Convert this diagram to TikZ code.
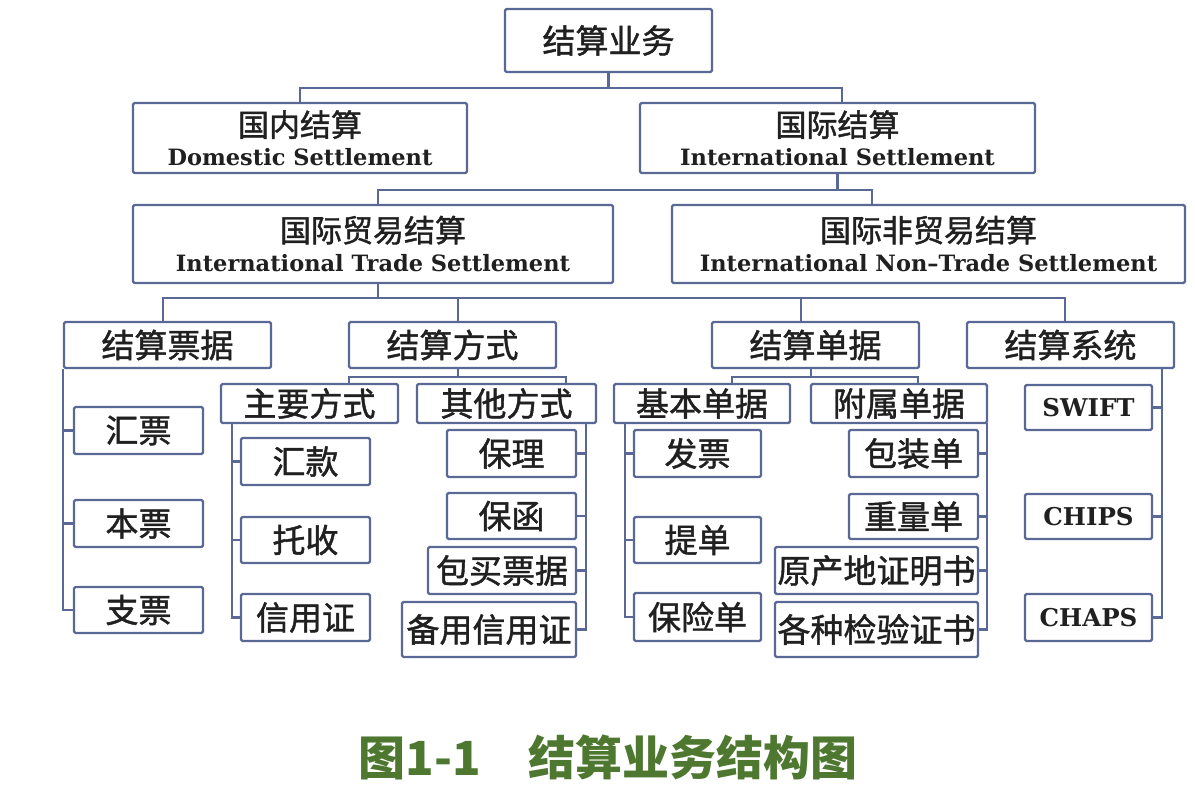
\documentclass[tikz,border=0pt]{standalone}
\usepackage{fontspec}
\newfontfamily\cjk{Noto Sans CJK SC}[FakeBold=1.3]
\newfontfamily\cjkcap{Noto Sans CJK SC}
\newfontfamily\en{DejaVu Serif}
\usetikzlibrary{calc}
\definecolor{edge}{RGB}{90,104,150}
\definecolor{ink}{RGB}{32,32,32}
\definecolor{capc}{RGB}{78,120,48}
\tikzset{
  box/.style={draw=edge, line width=2.4pt, rounded corners=1.5pt, fill=white, inner sep=0pt,
    text=ink, font=\cjk\fontsize{33}{36}\selectfont, align=center},
  twoline/.style={font=\cjk\fontsize{31}{34}\selectfont},
  conn/.style={draw=edge, line width=2.2pt}
}
\newcommand\bx[7][]{\node[box, #1, minimum width={#5-#3}, minimum height={#6-#4}] (#2) at ({(#3+#5)/2},{(#4+#6)/2}) {#7};}
\newcommand\ent[1]{{\en\bfseries\fontsize{22.5}{25}\selectfont #1}}
\newcommand\abbr[1]{{\en\bfseries\fontsize{24.5}{27}\selectfont #1}}
\begin{document}
\begin{tikzpicture}[x=1pt,y=-1pt]
\useasboundingbox (0,0) rectangle (1195,789);
% level 0-2
\bx{top}{505}{9}{712}{72}{结算业务}
\bx[twoline]{dom}{133}{103}{467}{173}{国内结算\\[-5pt]\ent{Domestic Settlement}}
\bx[twoline]{intl}{640}{103}{1035}{173}{国际结算\\[-5pt]\ent{International Settlement}}
\bx[twoline]{trade}{133}{205}{613}{283}{国际贸易结算\\[-4pt]\ent{International Trade Settlement}}
\bx[twoline]{nt}{672}{205}{1185}{283}{国际非贸易结算\\[-4pt]\ent{International Non–Trade Settlement}}
% level 3
\bx{pj}{64}{322}{271}{368}{结算票据}
\bx{fs}{349}{322}{556}{368}{结算方式}
\bx{dj}{712}{322}{919}{368}{结算单据}
\bx{xt}{967}{322}{1174}{368}{结算系统}
% 结算票据 children
\bx{hp}{74}{407}{203}{454}{汇票}
\bx{bp}{74}{500}{203}{547}{本票}
\bx{zp}{74}{587}{203}{633}{支票}
% 结算方式 children
\bx{zy}{221}{384}{398}{423}{主要方式}
\bx{qt}{417}{384}{596}{423}{其他方式}
\bx{hk}{241}{438}{370}{485}{汇款}
\bx{ts}{241}{517}{370}{563}{托收}
\bx{xyz}{241}{594}{370}{641}{信用证}
\bx{bl}{447}{430}{576}{477}{保理}
\bx{bh}{447}{493}{576}{539}{保函}
\bx{bm}{428}{547}{576}{594}{包买票据}
\bx{by}{402}{602}{576}{657}{备用信用证}
% 结算单据 children
\bx{jb}{614}{384}{790}{423}{基本单据}
\bx{fsd}{811}{384}{987}{423}{附属单据}
\bx{fp}{634}{430}{761}{477}{发票}
\bx{td}{634}{517}{761}{563}{提单}
\bx{bx}{634}{593}{761}{641}{保险单}
\bx{bz}{849}{430}{978}{477}{包装单}
\bx{zl}{849}{494}{978}{539}{重量单}
\bx{yc}{775}{547}{978}{594}{原产地证明书}
\bx{jy}{775}{602}{978}{657}{各种检验证书}
% 结算系统 children
\bx{sw}{1025}{385}{1152}{430}{\abbr{SWIFT}}
\bx{ch}{1025}{494}{1152}{539}{\abbr{CHIPS}}
\bx{ca}{1025}{594}{1152}{641}{\abbr{CHAPS}}
% junction coordinates
\coordinate (j1a) at (300,88);
\coordinate (j1b) at (842,88);
\coordinate (j2a) at (378,190);
\coordinate (j2b) at (872,190);
\coordinate (j3a) at (163,298);
\coordinate (j3t) at (378,298);
\coordinate (j3b) at (458,298);
\coordinate (j3c) at (801,298);
\coordinate (j3d) at (1065,298);
\coordinate (j4a) at (349,377);
\coordinate (j4m) at (458,377);
\coordinate (j4b) at (566,377);
\coordinate (j4c) at (732,377);
\coordinate (j4n) at (811,377);
\coordinate (j4d) at (918,377);
\coordinate (vzy) at (232,423);
\coordinate (vqt) at (586,423);
\coordinate (vjb) at (625,423);
\coordinate (vfs) at (987,423);
\coordinate (vxt) at (1162,368);
% connectors
\draw[conn] (top.south) -- (top.south |- j1a);
\draw[conn] (j1a |- dom.north) -- (j1a) -- (j1b) -- (j1b |- intl.north);
\draw[conn] (intl.south) -- (intl.south |- j2a);
\draw[conn] (j2a |- trade.north) -- (j2a) -- (j2b) -- (j2b |- nt.north);
\draw[conn] (j3t |- trade.south) -- (j3t);
\draw[conn] (j3a |- pj.north) -- (j3a) -- (j3d) -- (j3d |- xt.north);
\draw[conn] (j3b) -- (j3b |- fs.north);
\draw[conn] (j3c) -- (j3c |- dj.north);
% 结算票据 bracket
\draw[conn] (pj.south west) |- (zp.west);
\draw[conn] (pj.south west |- hp.west) -- (hp.west);
\draw[conn] (pj.south west |- bp.west) -- (bp.west);
% 结算方式
\draw[conn] (j4m |- fs.south) -- (j4m);
\draw[conn] (j4a |- zy.north) -- (j4a) -- (j4b) -- (j4b |- qt.north);
\draw[conn] (vzy) |- (xyz.west);
\draw[conn] (vzy |- hk.west) -- (hk.west);
\draw[conn] (vzy |- ts.west) -- (ts.west);
\draw[conn] (vqt) |- (by.east);
\draw[conn] (vqt |- bl.east) -- (bl.east);
\draw[conn] (vqt |- bh.east) -- (bh.east);
\draw[conn] (vqt |- bm.east) -- (bm.east);
% 结算单据
\draw[conn] (j4n |- dj.south) -- (j4n);
\draw[conn] (j4c |- jb.north) -- (j4c) -- (j4d) -- (j4d |- fsd.north);
\draw[conn] (vjb) |- (bx.west);
\draw[conn] (vjb |- fp.west) -- (fp.west);
\draw[conn] (vjb |- td.west) -- (td.west);
\draw[conn] (vfs) |- (jy.east);
\draw[conn] (vfs |- bz.east) -- (bz.east);
\draw[conn] (vfs |- zl.east) -- (zl.east);
\draw[conn] (vfs |- yc.east) -- (yc.east);
% 结算系统
\draw[conn] (vxt) |- (ca.east);
\draw[conn] (vxt |- sw.east) -- (sw.east);
\draw[conn] (vxt |- ch.east) -- (ch.east);
% caption
\node[text=capc, font=\cjkcap\bfseries\fontsize{47}{50}\selectfont, inner sep=0pt] (caption) at (608,757) {图1-1\hspace{48pt}结算业务结构图};
\end{tikzpicture}
\end{document}
